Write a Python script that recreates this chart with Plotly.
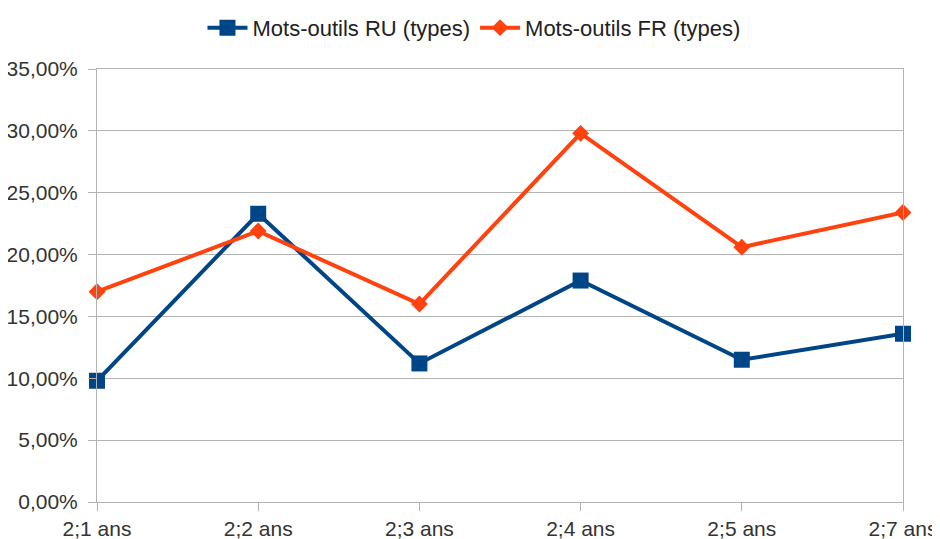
import plotly.graph_objects as go

categories = ["2;1 ans", "2;2 ans", "2;3 ans", "2;4 ans", "2;5 ans", "2;7 ans"]
ru_values = [0.098, 0.233, 0.112, 0.179, 0.115, 0.136]
fr_values = [0.170, 0.219, 0.160, 0.298, 0.206, 0.234]
ru_name = "Mots-outils RU (types)"
fr_name = "Mots-outils FR (types)"
y_ticks = [0, 0.05, 0.10, 0.15, 0.20, 0.25, 0.30, 0.35]

FONT = "Liberation Sans, Arial, sans-serif"

fig = go.Figure()
fig.add_trace(go.Scatter(
    x=categories, y=ru_values, name=ru_name, mode="lines+markers",
    line=dict(color="#004586", width=4),
    marker=dict(symbol="square", size=16, color="#004586"),
    cliponaxis=False,
))
fig.add_trace(go.Scatter(
    x=categories, y=fr_values, name=fr_name, mode="lines+markers",
    line=dict(color="#ff420e", width=4),
    marker=dict(symbol="diamond", size=13, color="#ff420e"),
    cliponaxis=False,
))

fig.update_layout(
    width=940, height=539,
    margin=dict(l=89, r=45, t=61, b=45, autoexpand=False),
    paper_bgcolor="white", plot_bgcolor="white",
    separators=", ",
    font=dict(family=FONT, size=21, color="#333333"),
    showlegend=True,
    legend=dict(
        orientation="h", x=0.4677, xanchor="center", y=1.095, yanchor="middle",
        font=dict(family=FONT, size=22, color="#222222"),
        itemwidth=40, traceorder="normal",
    ),
    xaxis=dict(
        type="category", range=[0, len(categories) - 1], automargin=False,
        showgrid=False, showline=True, linecolor="#b3b3b3", linewidth=1, mirror=True,
        ticks="outside", ticklen=8, tickcolor="#b3b3b3",
        tickfont=dict(family=FONT, size=21, color="#333333"),
        zeroline=False,
    ),
    yaxis=dict(
        range=[0, 0.35], tickvals=y_ticks, tickformat=".2%", automargin=False,
        showgrid=True, gridcolor="#b3b3b3", gridwidth=1,
        showline=True, linecolor="#b3b3b3", linewidth=1, mirror=True,
        ticks="outside", ticklen=8, tickcolor="#b3b3b3",
        tickfont=dict(family=FONT, size=21, color="#333333"),
        ticklabelstandoff=6,
        zeroline=False,
    ),
)

fig.write_html("out.html")
